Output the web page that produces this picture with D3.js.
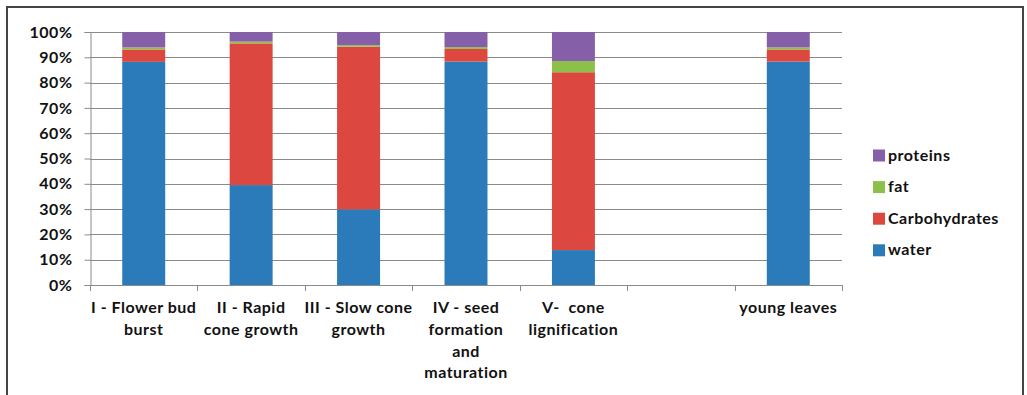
<!DOCTYPE html>
<html><head><meta charset="utf-8">
<script src="https://cdn.jsdelivr.net/npm/d3@7"></script>
<style>
html,body{margin:0;padding:0;background:#fff;}
svg{display:block;}
text{font-family:Lato,"Open Sans",sans-serif;font-weight:bold;fill:#111;letter-spacing:0.5px;white-space:pre;}
</style></head><body>
<svg id="chart" width="1027" height="395"></svg>
<script>
const categories = ["I - Flower bud\nburst","II - Rapid\ncone growth","III - Slow cone\ngrowth","IV - seed\nformation\nand\nmaturation","V-  cone\nlignification","","young leaves"];
const seriesNames = ["water","Carbohydrates","fat","proteins"];
const water = [88.2, 39.5, 29.9, 88.3, 13.8, null, 88.3];
const carbohydrates = [4.9, 56.0, 64.3, 5.0, 70.3, null, 4.8];
const fat = [0.8, 0.7, 0.6, 0.7, 4.4, null, 0.8];
const proteins = [6.1, 3.8, 5.2, 6.0, 11.5, null, 6.1];
const yTicks = [0,10,20,30,40,50,60,70,80,90,100];
const colors = ["#2B7BBA","#DC4840","#8DC049","#8560A8"];

(function(){
const svg = d3.select("#chart");
svg.append("rect").attr("x",7).attr("y",7).attr("width",1016).attr("height",400)
  .attr("fill","none").attr("stroke","#444").attr("stroke-width",2);

const pl=90, pr=842, pt=32, pb=285;
const x = d3.scaleBand().domain(d3.range(categories.length)).range([pl,pr]).paddingInner(0.6).paddingOuter(0.3);
const xb = d3.scaleBand().domain(d3.range(categories.length)).range([pl,pr]);
const y = d3.scaleLinear().domain([0,100]).range([pb,pt]);

svg.append("g").selectAll("line").data(yTicks.filter(d=>d>0)).join("line")
  .attr("x1",pl).attr("x2",pr).attr("y1",d=>Math.round(y(d))+0.5).attr("y2",d=>Math.round(y(d))+0.5)
  .attr("stroke","#8a8a8a").attr("stroke-width",1);

const rows = categories.map((c,i)=>({i, water:water[i]||0, Carbohydrates:carbohydrates[i]||0, fat:fat[i]||0, proteins:proteins[i]||0}));
const stack = d3.stack().keys(seriesNames)(rows);
svg.append("g").selectAll("g").data(stack).join("g").attr("fill",(d,k)=>colors[k])
  .selectAll("rect").data(d=>d.filter(p=>p[1]-p[0]>0)).join("rect")
  .attr("x",d=>x(d.data.i)).attr("width",x.bandwidth())
  .attr("y",d=>y(d[1])).attr("height",d=>y(d[0])-y(d[1]));

const yAxis = d3.axisLeft(y).tickValues(yTicks).tickFormat(d=>d+"%").tickSize(6).tickPadding(12);
const gy = svg.append("g").attr("transform",`translate(${pl+0.5},0)`).call(yAxis);
gy.select(".domain").attr("stroke","#8a8a8a");
gy.selectAll(".tick line").attr("stroke","#8a8a8a");
gy.selectAll("text").attr("font-size",16).attr("fill","#111").attr("font-family","Lato,sans-serif").attr("font-weight","bold");

svg.append("line").attr("x1",pl).attr("x2",pr).attr("y1",pb+0.5).attr("y2",pb+0.5).attr("stroke","#8a8a8a");
svg.append("g").selectAll("line").data(d3.range(categories.length+1)).join("line")
  .attr("x1",d=>Math.round(pl+d*xb.bandwidth())+0.5).attr("x2",d=>Math.round(pl+d*xb.bandwidth())+0.5)
  .attr("y1",pb).attr("y2",pb+6).attr("stroke","#8a8a8a");

const xl = svg.append("g").selectAll("text").data(categories).join("text")
  .attr("text-anchor","middle").attr("font-size",16)
  .attr("x",(d,i)=>xb(i)+xb.bandwidth()/2).attr("y",313);
xl.each(function(d){
  const t=d3.select(this);
  d.split("\n").forEach((line,j)=>{
    t.append("tspan").attr("x",t.attr("x")).attr("dy",j===0?0:21.8).text(line);
  });
});

const legendOrder = [3,2,1,0];
const lg = svg.append("g").selectAll("g").data(legendOrder).join("g")
  .attr("transform",(d,j)=>`translate(873,${155+j*31.6})`);
lg.append("rect").attr("x",0).attr("y",-5.5).attr("width",12).attr("height",12).attr("fill",d=>colors[d]);
lg.append("text").attr("x",15).attr("y",5.5).attr("font-size",16).text(d=>seriesNames[d]);
})();
</script>
</body></html>
